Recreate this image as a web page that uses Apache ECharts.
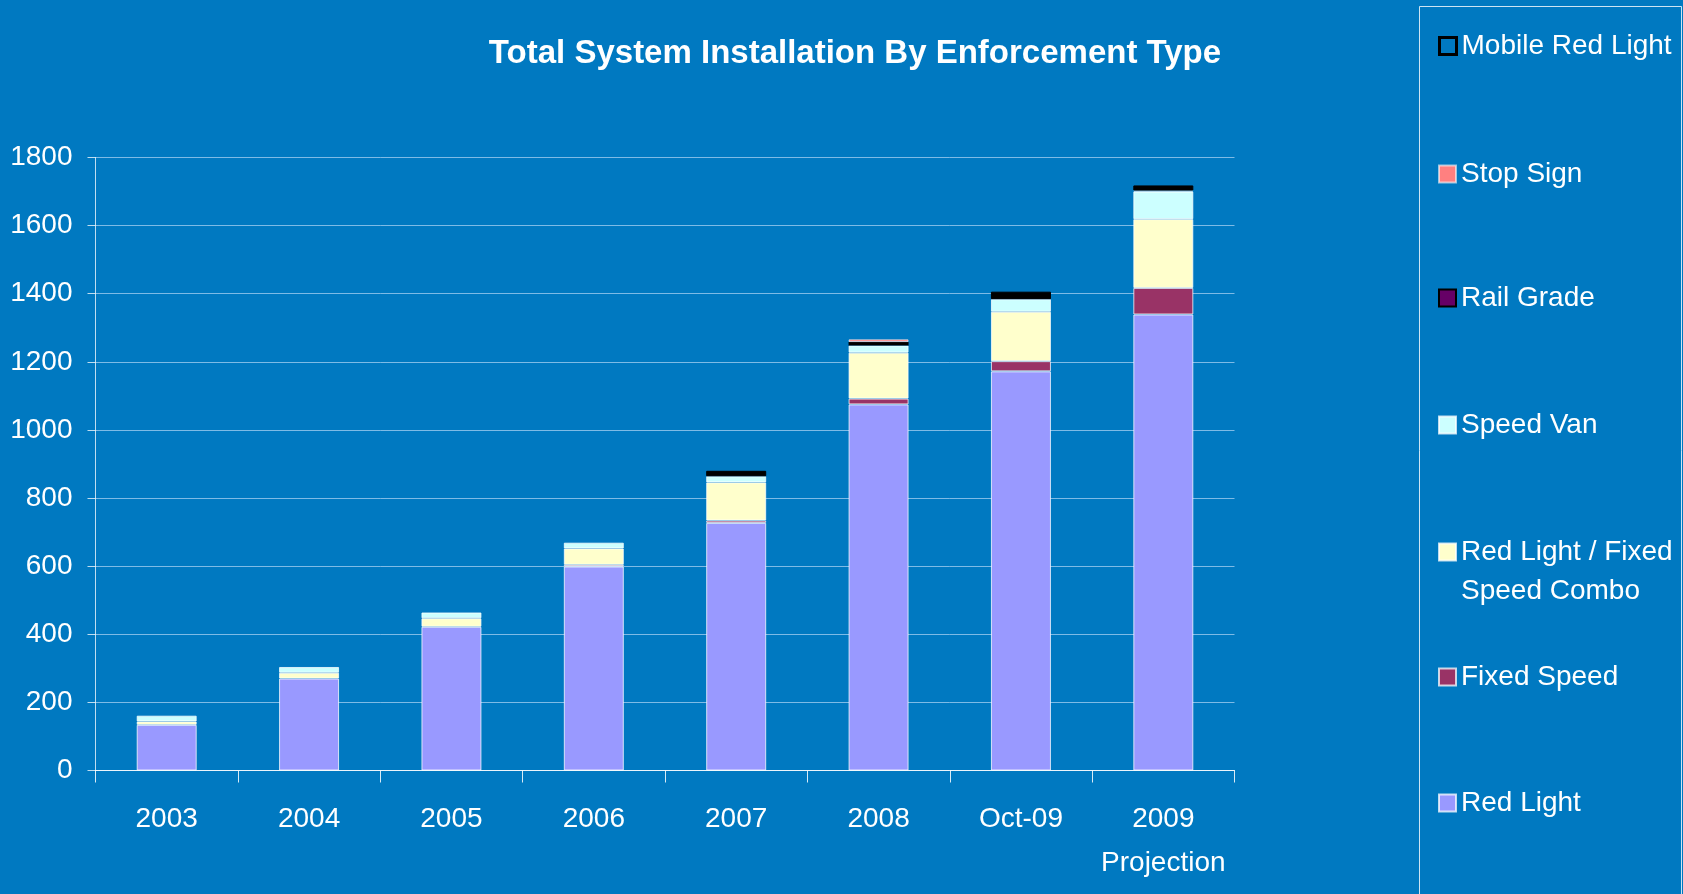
<!DOCTYPE html>
<html>
<head>
<meta charset="utf-8">
<script src="https://cdn.jsdelivr.net/npm/echarts@6/dist/echarts.min.js"></script>
<style>
html,body{margin:0;padding:0;background:#0079C1;}
#chart{width:1683px;height:894px;}
</style>
</head>
<body>
<div id="chart"></div>
<script>
const categories = ['2003', '2004', '2005', '2006', '2007', '2008', 'Oct-09', '2009\nProjection'];
const redLight      = [134, 270, 422, 599, 727, 1075, 1172, 1339];
const fixedSpeed    = [0, 0, 0, 5, 7, 17, 30, 78];
const combo         = [10, 17, 25, 48, 112, 135, 145, 202];
const speedVan      = [17, 17, 17, 17, 18, 21, 37, 81];
const railGrade     = [0, 0, 0, 0, 0, 10, 0, 0];
const stopSign      = [0, 0, 0, 0, 0, 8, 0, 3];
const mobileRed     = [0, 0, 0, 0, 16, 0, 22, 15];
const yTicks = [0, 200, 400, 600, 800, 1000, 1200, 1400, 1600, 1800];

const BG = '#0079C1';
const FONT = "'Liberation Sans', Arial, sans-serif";

const seriesDefs = [
  {name: 'Red Light', data: redLight, color: '#9999FF', border: 'rgba(255,255,255,0.75)', bw: 1},
  {name: 'Fixed Speed', data: fixedSpeed, color: '#993366', border: 'rgba(255,255,255,0.75)', bw: 1},
  {name: 'Red Light / Fixed Speed Combo', data: combo, color: '#FFFFCC', border: 'rgba(255,255,255,0.75)', bw: 1},
  {name: 'Speed Van', data: speedVan, color: '#CCFFFF', border: 'rgba(255,255,255,0.75)', bw: 1},
  {name: 'Rail Grade', data: railGrade, color: '#660066', border: '#000000', bw: 2},
  {name: 'Stop Sign', data: stopSign, color: '#FF8080', border: 'rgba(255,255,255,0.6)', bw: 1},
  {name: 'Mobile Red Light', data: mobileRed, color: '#000000', border: '#000000', bw: 1}
];

const series = seriesDefs.map(s => ({
  name: s.name,
  type: 'bar',
  stack: 'total',
  barWidth: 60,
  data: s.data.map(v => v === 0 ? null : v),
  itemStyle: {color: s.color, borderColor: s.border, borderWidth: s.bw},
  emphasis: {disabled: true}
}));

const legendItems = [
  {name: 'Mobile Red Light', cy: 46, itemStyle: {color: BG, borderColor: '#000', borderWidth: 3}},
  {name: 'Stop Sign', cy: 174},
  {name: 'Rail Grade', cy: 298},
  {name: 'Speed Van', cy: 425},
  {name: 'Red Light / Fixed Speed Combo', cy: 552, two: true},
  {name: 'Fixed Speed', cy: 677},
  {name: 'Red Light', cy: 803}
];
const LH = 39;
const legends = legendItems.map(it => {
  const d = {name: it.name};
  if (it.itemStyle) d.itemStyle = it.itemStyle;
  return {
    data: [d],
    orient: 'vertical',
    left: 1438,
    top: it.two ? it.cy - 1.5 * LH : it.cy - LH / 2,
    padding: 0,
    itemWidth: 17,
    itemHeight: 17,
    itemGap: 9,
    selectedMode: false,
    icon: 'rect',
    formatter: name => name === 'Red Light / Fixed Speed Combo' ? ' \nRed Light / Fixed\nSpeed Combo' : name,
    textStyle: {color: '#ffffff', fontSize: 28, fontFamily: FONT, lineHeight: LH}
  };
});

const chart = echarts.init(document.getElementById('chart'), null, {renderer: 'canvas'});
chart.setOption({
  backgroundColor: BG,
  animation: false,
  title: {
    text: 'Total System Installation By Enforcement Type',
    left: 850,
    top: 32,
    textAlign: 'center',
    textStyle: {color: '#ffffff', fontSize: 33, fontWeight: 'bold', fontFamily: FONT}
  },
  legend: legends,
  graphic: [{
    type: 'rect',
    shape: {x: 1419.5, y: 6.5, width: 262, height: 900},
    style: {fill: 'none', stroke: 'rgba(255,255,255,0.8)', lineWidth: 1},
    silent: true
  }],
  grid: {left: 95.5, right: 448.5, top: 157.5, bottom: 123.5, containLabel: false},
  xAxis: {
    type: 'category',
    data: categories,
    axisLine: {show: true, lineStyle: {color: 'rgba(255,255,255,0.85)', width: 1}},
    axisTick: {show: true, alignWithLabel: false, length: 12, lineStyle: {color: 'rgba(255,255,255,0.85)'}},
    axisLabel: {color: '#ffffff', fontSize: 28, fontFamily: FONT, margin: 27, lineHeight: 44, interval: 0}
  },
  yAxis: {
    type: 'value',
    min: 0, max: 1800, interval: 200,
    axisLine: {show: true, lineStyle: {color: 'rgba(255,255,255,0.75)', width: 1}},
    axisTick: {show: true, length: 8, lineStyle: {color: 'rgba(255,255,255,0.75)'}},
    splitLine: {show: true, lineStyle: {color: 'rgba(180,215,245,0.7)', width: 1}},
    axisLabel: {
      color: '#ffffff', fontSize: 28, fontFamily: FONT, margin: 23,
      formatter: v => yTicks.indexOf(v) >= 0 ? String(v) : ''
    }
  },
  series: series
});
</script>
</body>
</html>
